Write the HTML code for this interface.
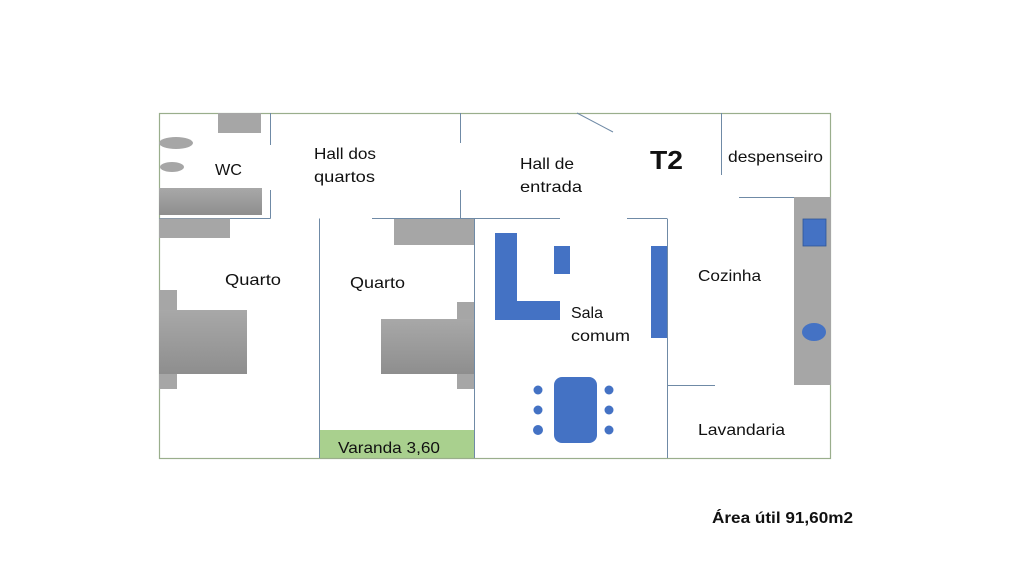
<!DOCTYPE html>
<html><head><meta charset="utf-8"><style>
html,body{margin:0;padding:0;background:#fff;}
svg{display:block;}
text{font-family:"Liberation Sans",sans-serif;fill:#111;}
</style></head><body>
<svg width="1024" height="576" viewBox="0 0 1024 576" xmlns="http://www.w3.org/2000/svg">
<defs>
<linearGradient id="g" x1="0" y1="0" x2="0" y2="1">
<stop offset="0" stop-color="#a8a8a8"/><stop offset="1" stop-color="#8e8e8e"/>
</linearGradient>
</defs>
<rect x="0" y="0" width="1024" height="576" fill="#fff"/>
<rect x="319" y="430" width="155" height="28" fill="#a9d08e"/>
<rect x="159.5" y="113.5" width="671" height="345" fill="none" stroke="#9aae8c" stroke-width="1.2"/>
<g stroke="#6f8aa6" stroke-width="1" fill="none">
<line x1="270.5" y1="113" x2="270.5" y2="145"/>
<line x1="270.5" y1="190" x2="270.5" y2="218.5"/>
<line x1="159" y1="218.5" x2="270.5" y2="218.5"/>
<line x1="460.5" y1="113" x2="460.5" y2="143"/>
<line x1="460.5" y1="190" x2="460.5" y2="218.5"/>
<line x1="372" y1="218.5" x2="474" y2="218.5"/>
<line x1="319.5" y1="218.5" x2="319.5" y2="458"/>
<line x1="474.5" y1="218.5" x2="474.5" y2="458"/>
<line x1="474" y1="218.5" x2="560" y2="218.5"/>
<line x1="627" y1="218.5" x2="667" y2="218.5"/>
<line x1="667.5" y1="218.5" x2="667.5" y2="458"/>
<line x1="667" y1="385.5" x2="715" y2="385.5"/>
<line x1="577" y1="113" x2="613" y2="132"/>
<line x1="721.5" y1="113" x2="721.5" y2="175"/>
<line x1="739" y1="197.5" x2="831" y2="197.5"/>
</g>
<rect x="218" y="113" width="43" height="20" fill="#a6a6a6"/>
<ellipse cx="176" cy="143" rx="17" ry="6" fill="#a6a6a6"/>
<ellipse cx="172" cy="167" rx="12" ry="5" fill="#a6a6a6"/>
<rect x="159" y="188" width="103" height="27" fill="url(#g)"/>
<rect x="159" y="218.5" width="71" height="19.5" fill="#a6a6a6"/>
<rect x="394" y="219" width="80" height="26" fill="#a6a6a6"/>
<rect x="159" y="290" width="18" height="20" fill="#a6a6a6"/>
<rect x="159" y="374" width="18" height="15" fill="#a6a6a6"/>
<rect x="159" y="310" width="88" height="64" fill="url(#g)"/>
<rect x="457" y="302" width="17" height="17" fill="#a6a6a6"/>
<rect x="457" y="374" width="17" height="15" fill="#a6a6a6"/>
<rect x="381" y="319" width="93" height="55" fill="url(#g)"/>
<rect x="794" y="197" width="37" height="188" fill="#a6a6a6"/>
<rect x="803" y="219" width="23" height="27" fill="#4472c4" stroke="#2f5597" stroke-width="0.8"/>
<ellipse cx="814" cy="332" rx="12" ry="9" fill="#4472c4"/>
<g fill="#4472c4">
<rect x="495" y="233" width="22" height="87"/>
<rect x="495" y="301" width="65" height="19"/>
<rect x="554" y="246" width="16" height="28"/>
<rect x="651" y="246" width="16" height="92"/>
<rect x="554" y="377" width="43" height="66" rx="8"/>
<circle cx="538" cy="390" r="4.5"/><circle cx="538" cy="410" r="4.5"/><circle cx="538" cy="430" r="5"/>
<circle cx="609" cy="390" r="4.5"/><circle cx="609" cy="410" r="4.5"/><circle cx="609" cy="430" r="4.5"/>
</g>
<g font-size="16" lengthAdjust="spacingAndGlyphs">
<text x="215" y="175" textLength="27" lengthAdjust="spacingAndGlyphs">WC</text>
<text x="314" y="159" textLength="62" lengthAdjust="spacingAndGlyphs">Hall dos</text>
<text x="314" y="182" textLength="61" lengthAdjust="spacingAndGlyphs">quartos</text>
<text x="520" y="169" textLength="54" lengthAdjust="spacingAndGlyphs">Hall de</text>
<text x="520" y="192" textLength="62" lengthAdjust="spacingAndGlyphs">entrada</text>
<text x="728" y="162" textLength="95" lengthAdjust="spacingAndGlyphs">despenseiro</text>
<text x="225" y="285" textLength="56" lengthAdjust="spacingAndGlyphs">Quarto</text>
<text x="350" y="288" textLength="55" lengthAdjust="spacingAndGlyphs">Quarto</text>
<text x="698" y="281" textLength="63" lengthAdjust="spacingAndGlyphs">Cozinha</text>
<text x="571" y="318" textLength="32" lengthAdjust="spacingAndGlyphs">Sala</text>
<text x="571" y="341" textLength="59" lengthAdjust="spacingAndGlyphs">comum</text>
<text x="698" y="435" textLength="87" lengthAdjust="spacingAndGlyphs">Lavandaria</text>
<text x="338" y="453" textLength="102" lengthAdjust="spacingAndGlyphs">Varanda 3,60</text>
</g>
<text x="650" y="169" font-size="26" font-weight="bold" textLength="33" lengthAdjust="spacingAndGlyphs">T2</text>
<text x="712" y="523" font-size="16" font-weight="bold" textLength="141" lengthAdjust="spacingAndGlyphs">Área útil 91,60m2</text>
</svg>
</body></html>
